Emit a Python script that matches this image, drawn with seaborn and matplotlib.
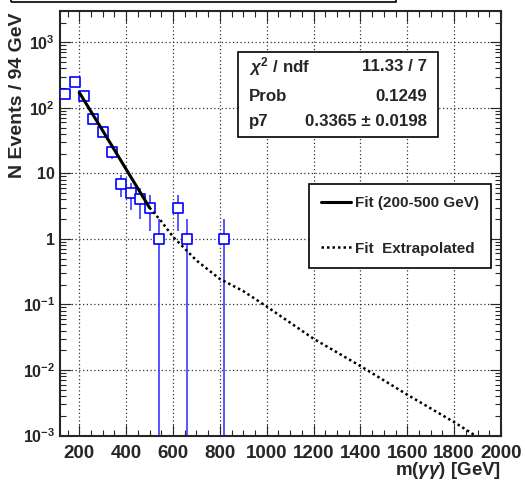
import numpy as np
import pandas as pd
import matplotlib
matplotlib.use("Agg")
import matplotlib.pyplot as plt
import seaborn as sns
from matplotlib.patches import Rectangle
from matplotlib.ticker import MultipleLocator, LogLocator, FixedLocator, FixedFormatter, NullFormatter

# ---------------------------------
# DATA
# ---------------------------------

mass = [140, 180, 220, 260, 300, 340, 380, 420, 460, 500, 540, 620, 660, 820]
events = [162, 246, 151, 67, 43, 21, 7, 5, 4, 3, 1, 3, 1, 1]
event_err = [12.7, 15.7, 12.3, 8.2, 6.6, 4.6, 2.6, 2.2, 2.0, 1.7, 1.0, 1.7, 1.0, 1.0]

fit_mass = [200, 300, 400, 500]
fit_val = [172, 45, 11.6, 3.0]

extrap_mass = [500, 550, 600, 700, 800, 900, 1000, 1200, 1400, 1600, 1800, 1890]
extrap_val = [3.0, 1.86, 1.08, 0.47, 0.245, 0.16, 0.093, 0.030, 0.0115, 0.0042, 0.0016, 0.001]

y_ticks = [1e-3, 1e-2, 1e-1, 1, 10, 1e2, 1e3]
y_labels = ["10$^{-3}$", "10$^{-2}$", "10$^{-1}$", "1", "10", "10$^{2}$", "10$^{3}$"]

stat_names = [r"$\chi^{2}$ / ndf", "Prob", "p7"]
stat_values = ["11.33 / 7", "0.1249", "0.3365 ± 0.0198"]

# ---------------------------------
# STYLE
# ---------------------------------

sns.set_style("ticks")
plt.rcParams["font.family"] = ["Liberation Sans", "DejaVu Sans"]
plt.rcParams["font.weight"] = "bold"
plt.rcParams["mathtext.fontset"] = "custom"
plt.rcParams["mathtext.rm"] = "Liberation Sans:bold"
plt.rcParams["mathtext.bf"] = "Liberation Sans:bold"
plt.rcParams["mathtext.it"] = "Liberation Sans:italic"

fig = plt.figure(figsize=(5.25, 4.8), dpi=100)
ax = fig.add_axes([0.1152, 0.0927, 0.8390, 0.8850])

# ---------------------------------
# PLOT
# ---------------------------------

ax.errorbar(mass, events, yerr=event_err, xerr=20, fmt="none",
            ecolor="#3a3aff", elinewidth=1.2, capsize=0, zorder=2)

sns.scatterplot(x=mass, y=events, marker="s", s=58, color="white",
                edgecolor="#0000ff", linewidth=1.2, zorder=3, ax=ax)

sns.lineplot(x=fit_mass, y=fit_val, color="black", lw=2.2,
             label="Fit (200-500 GeV)", zorder=4, ax=ax)
sns.lineplot(x=extrap_mass, y=extrap_val, color="black", lw=1.8,
             linestyle=(0, (1, 1.2)), label="Fit  Extrapolated", zorder=4, ax=ax)

ax.set_yscale("log")
ax.set_xlim(120, 2000)
ax.set_ylim(1e-3, 3035)

ax.xaxis.set_major_locator(MultipleLocator(200))
ax.xaxis.set_minor_locator(MultipleLocator(50))
ax.yaxis.set_major_locator(FixedLocator(y_ticks))
ax.yaxis.set_major_formatter(FixedFormatter(y_labels))
ax.yaxis.set_minor_locator(LogLocator(base=10, subs=np.arange(2, 10)))
ax.yaxis.set_minor_formatter(NullFormatter())

ax.tick_params(which="both", direction="in", top=True, right=True, width=0.8)
ax.tick_params(which="major", length=8)
ax.tick_params(which="minor", length=4)
ax.tick_params(axis="x", labelsize=13.5, pad=6.5)
ax.tick_params(axis="y", labelsize=11.5, pad=4)
for lab in ax.get_xticklabels() + ax.get_yticklabels():
    lab.set_fontweight("bold")
for sp in ax.spines.values():
    sp.set_linewidth(1.5)
    sp.set_visible(True)

ax.grid(True, which="major", color="0.2", linestyle=(0, (1, 2)), lw=0.9)

ax.set_xlabel(r"m($\gamma\gamma$) [GeV]", fontsize=13.5, fontweight="bold", loc="right")
ax.xaxis.set_label_coords(1.0, -0.058)
ax.set_ylabel("N Events / 94 GeV", fontsize=14, fontweight="bold", loc="top")
ax.yaxis.set_label_coords(-0.078, 0.995)

# stats box
ax.add_patch(Rectangle((0.4036, 0.7034), 0.4541, 0.2001, transform=ax.transAxes,
                       facecolor="white", edgecolor="black", lw=1.2, zorder=5))
for name, val, ypos in zip(stat_names, stat_values, [0.8675, 0.7985, 0.7387]):
    ax.text(0.428, ypos, name, transform=ax.transAxes, fontsize=12.2,
            fontweight="bold", ha="left", va="center", zorder=6)
    ax.text(0.8327, ypos, val, transform=ax.transAxes, fontsize=12.2,
            fontweight="bold", ha="right", va="center", zorder=6)

# legend
leg = ax.legend(loc="upper left", bbox_to_anchor=(0.5648, 0.3896, 0.4132, 0.2024),
                mode="expand", fontsize=11, frameon=True, fancybox=False,
                framealpha=1, edgecolor="black", handlelength=1.9,
                handletextpad=0.3, labelspacing=2.05, borderpad=0.8,
                borderaxespad=0)
leg.get_frame().set_linewidth(1.2)
for t in leg.get_texts():
    t.set_fontweight("bold")

# cut-off title box at the top
fig.add_artist(Rectangle((11 / 525, 1 - 1.5 / 480), 385 / 525, 0.1,
                         transform=fig.transFigure, fill=False,
                         edgecolor="black", lw=1.2, clip_on=False))

fig.savefig("out.png", dpi=100)
